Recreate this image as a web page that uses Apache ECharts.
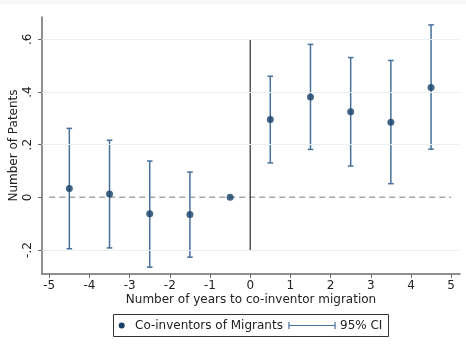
<!DOCTYPE html>
<html>
<head>
<meta charset="utf-8">
<script src="https://cdn.jsdelivr.net/npm/echarts@6/dist/echarts.min.js"></script>
<style>
  html, body { margin: 0; padding: 0; background: #ffffff; }
  #chart { width: 466px; height: 350px; }
</style>
</head>
<body>
<div id="chart"></div>
<script>
// Event-time offsets (years relative to co-inventor migration)
const years = [-4.5, -3.5, -2.5, -1.5, -0.5, 0.5, 1.5, 2.5, 3.5, 4.5];
// Point estimates
const estimates = [0.034, 0.013, -0.062, -0.065, 0.0, 0.296, 0.381, 0.325, 0.285, 0.417];
// 95% confidence bounds (null where the reference year has no interval)
const ciLow = [-0.195, -0.192, -0.265, -0.227, null, 0.131, 0.182, 0.119, 0.052, 0.183];
const ciHigh = [0.262, 0.217, 0.138, 0.096, null, 0.460, 0.581, 0.531, 0.520, 0.655];

// Tick labels
const xTicks = [-5, -4, -3, -2, -1, 0, 1, 2, 3, 4, 5];
const yTicks = [-0.2, 0, 0.2, 0.4, 0.6];
const yTickLabels = ['-.2', '0', '.2', '.4', '.6'];
const yGridValues = [-0.2, 0.2, 0.4, 0.6];

// Reference lines
const eventLineX = 0;
const eventLineSpan = [-0.2, 0.6];
const zeroLineSpan = [-5, 5];

const xRange = [-5.18, 5.22];
const yRange = [-0.291, 0.685];

const ciColor = '#46709a';
const pointColor = '#173f68';
const FONT = 'DejaVu Sans';

const ciData = years.map((x, i) => [x, ciLow[i], ciHigh[i]]).filter(d => d[1] !== null);

const chart = echarts.init(document.getElementById('chart'), null, { renderer: 'canvas' });

chart.setOption({
  animation: false,
  backgroundColor: '#ffffff',
  grid: { left: 42, right: 6, top: 17, bottom: 76, containLabel: false, outerBoundsMode: 'none' },
  xAxis: {
    type: 'value',
    min: xRange[0],
    max: xRange[1],
    name: 'Number of years to co-inventor migration',
    nameLocation: 'middle',
    nameGap: 20,
    nameMoveOverlap: false,
    nameTextStyle: { fontFamily: FONT, fontSize: 12, color: '#222' },
    axisLine: { show: true, onZero: false, lineStyle: { color: '#6b6b6b', width: 1.5 } },
    axisTick: { show: true, length: 4, customValues: xTicks, lineStyle: { color: '#6b6b6b', width: 1 } },
    axisLabel: { customValues: xTicks, margin: 6, fontFamily: FONT, fontSize: 12, color: '#222' },
    splitLine: { show: false }
  },
  yAxis: {
    type: 'value',
    min: yRange[0],
    max: yRange[1],
    name: 'Number of Patents',
    nameLocation: 'middle',
    nameGap: 22,
    nameRotate: 90,
    nameMoveOverlap: false,
    nameTextStyle: { fontFamily: FONT, fontSize: 12, color: '#222' },
    axisLine: { show: true, onZero: false, lineStyle: { color: '#6b6b6b', width: 1.5 } },
    axisTick: { show: true, length: 4, customValues: yTicks, lineStyle: { color: '#6b6b6b', width: 1 } },
    axisLabel: {
      customValues: yTicks,
      rotate: 90,
      margin: 8,
      fontFamily: FONT,
      fontSize: 12,
      color: '#222',
      formatter: v => {
        const i = yTicks.findIndex(t => Math.abs(t - v) < 1e-9);
        return i >= 0 ? yTickLabels[i] : '';
      }
    },
    splitLine: { show: false }
  },
  series: [
    {
      // light horizontal grid lines
      type: 'line',
      data: [],
      silent: true,
      markLine: {
        silent: true,
        symbol: 'none',
        label: { show: false },
        lineStyle: { color: '#ebf1f1', width: 1, type: 'solid' },
        data: yGridValues.map(v => ({ yAxis: v }))
      }
    },
    {
      // dashed zero line
      type: 'line',
      data: zeroLineSpan.map(x => [x, 0]),
      symbol: 'none',
      silent: true,
      lineStyle: { color: '#a8a8a8', width: 1.5, type: [6, 4] },
      z: 1
    },
    {
      // vertical event line at migration year
      type: 'line',
      data: eventLineSpan.map(y => [eventLineX, y]),
      symbol: 'none',
      silent: true,
      lineStyle: { color: '#2a2a2a', width: 1.2 },
      z: 2
    },
    {
      // confidence intervals with end caps
      type: 'custom',
      name: '95% CI',
      data: ciData,
      z: 3,
      renderItem: (params, api) => {
        const x = api.value(0);
        const lo = api.coord([x, api.value(1)]);
        const hi = api.coord([x, api.value(2)]);
        const cap = 2.8;
        const style = { stroke: ciColor, lineWidth: 1.5, fill: null };
        return {
          type: 'group',
          children: [
            { type: 'line', shape: { x1: lo[0], y1: lo[1], x2: hi[0], y2: hi[1] }, style },
            { type: 'line', shape: { x1: lo[0] - cap, y1: lo[1], x2: lo[0] + cap, y2: lo[1] }, style },
            { type: 'line', shape: { x1: hi[0] - cap, y1: hi[1], x2: hi[0] + cap, y2: hi[1] }, style }
          ]
        };
      }
    },
    {
      type: 'scatter',
      name: 'Co-inventors of Migrants',
      data: years.map((x, i) => [x, estimates[i]]),
      symbol: 'circle',
      symbolSize: 7,
      itemStyle: { color: pointColor },
      z: 4
    }
  ],
  graphic: [
    { type: 'rect', shape: { x: 0, y: 0, width: 466, height: 4.5 }, style: { fill: '#f7f7f7' }, silent: true },
    // legend box
    { type: 'rect', shape: { x: 113.5, y: 314.5, width: 275, height: 22 }, style: { fill: '#ffffff', stroke: '#333333', lineWidth: 1 }, z: 10 },
    { type: 'circle', shape: { cx: 121.7, cy: 325.5, r: 3 }, style: { fill: pointColor }, z: 11 },
    { type: 'text', x: 135, y: 325.5, style: { text: 'Co-inventors of Migrants', fontFamily: FONT, fontSize: 12, fill: '#222', verticalAlign: 'middle' }, z: 11 },
    { type: 'line', shape: { x1: 289, y1: 325.5, x2: 335, y2: 325.5 }, style: { stroke: ciColor, lineWidth: 1.2 }, z: 11 },
    { type: 'line', shape: { x1: 289, y1: 322, x2: 289, y2: 329 }, style: { stroke: ciColor, lineWidth: 1.2 }, z: 11 },
    { type: 'line', shape: { x1: 335, y1: 322, x2: 335, y2: 329 }, style: { stroke: ciColor, lineWidth: 1.2 }, z: 11 },
    { type: 'text', x: 340, y: 325.5, style: { text: '95% CI', fontFamily: FONT, fontSize: 12, fill: '#222', verticalAlign: 'middle' }, z: 11 }
  ]
});
</script>
</body>
</html>
